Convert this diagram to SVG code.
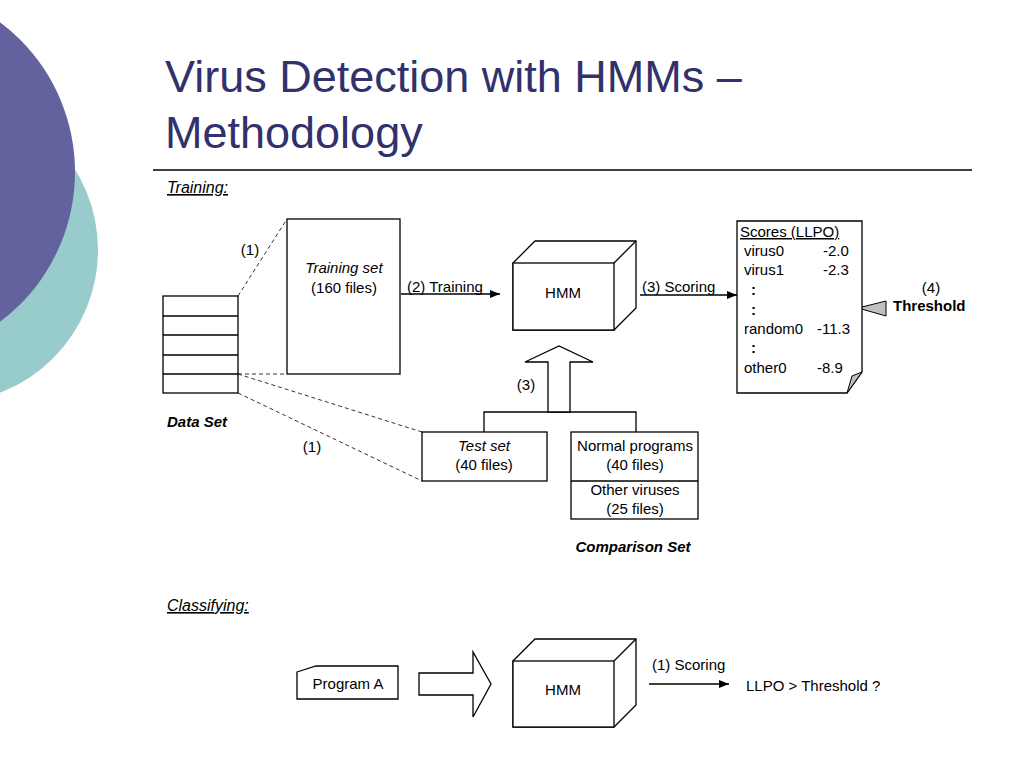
<svg xmlns="http://www.w3.org/2000/svg" width="1024" height="768" viewBox="0 0 1024 768">
<defs>
<style>
.t{font-family:"Liberation Sans",Arial,sans-serif;font-size:15px;fill:#000}
.c{text-anchor:middle}
.i{font-style:italic}
.b{font-weight:bold}
.h{font-family:"Liberation Sans",Arial,sans-serif;font-size:16px;font-style:italic;text-decoration:underline}
.box{fill:#fff;stroke:#000;stroke-width:1.3}
.dash{fill:none;stroke:#000;stroke-width:0.8;stroke-dasharray:4 3}
.ln{fill:none;stroke:#000;stroke-width:1.3}
</style>
<marker id="ah" markerWidth="10" markerHeight="8" refX="10" refY="4" orient="auto" markerUnits="userSpaceOnUse">
<path d="M0,0 L10,4 L0,8 Z" fill="#000"/>
</marker>
</defs>
<rect width="1024" height="768" fill="#fff"/>
<g id="background">
<circle cx="-55" cy="250" r="153" fill="#98cbcb"/>
<circle cx="-112" cy="172" r="187" fill="#64629e"/>
</g>
<g id="title">
<text x="165" y="92" font-family="'Liberation Sans',Arial,sans-serif" font-size="45" fill="#31316b">Virus Detection with HMMs –</text>
<text x="165" y="148" font-family="'Liberation Sans',Arial,sans-serif" font-size="45" fill="#31316b">Methodology</text>
<line x1="153" y1="170" x2="972" y2="170" stroke="#000" stroke-width="1.5"/>
</g>
<text class="h" x="167" y="193">Training:</text>
<text class="h" x="167" y="611">Classifying:</text>

<g id="connectors">
<line class="dash" x1="238" y1="296" x2="287" y2="219"/>
<line class="dash" x1="238" y1="374" x2="287" y2="374"/>
<line class="dash" x1="238" y1="374" x2="422" y2="432"/>
<line class="dash" x1="238" y1="393" x2="422" y2="481"/>
<line class="ln" x1="401" y1="294" x2="500" y2="294" marker-end="url(#ah)"/>
<line class="ln" x1="640" y1="295" x2="737" y2="295" marker-end="url(#ah)"/>
<polyline class="ln" points="484,432 484,412 636,412 636,432"/>
<polygon class="box" points="548,412 548,362 525,362 559,346 593,362 570,362 570,412"/>
<polygon points="858,308 886,301 886,316" fill="#c0c0c0" stroke="#000" stroke-width="1"/>
<polygon class="box" points="419,673 473,673 473,652 491,684 473,717 473,695 419,695"/>
<line class="ln" x1="649" y1="684" x2="729" y2="684" marker-end="url(#ah)"/>
<text class="t" x="250" y="255" text-anchor="middle">(1)</text>
<text class="t" x="312" y="452" text-anchor="middle">(1)</text>
<text class="t" x="407" y="292">(2) Training</text>
<text class="t" x="642" y="292">(3) Scoring</text>
<text class="t" x="526" y="390" text-anchor="middle">(3)</text>
<text class="t" x="652" y="670">(1) Scoring</text>
</g>

<g id="dataset">
<rect class="box" x="163" y="296" width="75" height="97"/>
<line class="ln" x1="163" y1="316" x2="238" y2="316"/>
<line class="ln" x1="163" y1="335" x2="238" y2="335"/>
<line class="ln" x1="163" y1="355" x2="238" y2="355"/>
<line class="ln" x1="163" y1="374" x2="238" y2="374"/>
<text class="t b i" x="167" y="427">Data Set</text>
</g>

<g id="trainingset">
<rect class="box" x="287" y="219" width="113" height="155"/>
<text class="t c i" x="344" y="273">Training set</text>
<text class="t c" x="344" y="293">(160 files)</text>
</g>

<g id="hmm1">
<polygon class="box" points="513,263 535,241 636,241 636,308 614,330 513,330"/>
<rect class="box" x="513" y="263" width="101" height="67"/>
<line class="ln" x1="614" y1="263" x2="636" y2="241"/>
<text class="t c" x="563" y="298">HMM</text>
</g>

<g id="scores">
<polygon class="box" points="737,221 862,221 862,372 847,393 737,393"/>
<polygon points="862,372 847,393 852,376" fill="#c0c0c0" stroke="#000" stroke-width="1"/>
<text class="t" x="740" y="237" text-decoration="underline">Scores (LLPO)</text>
<text class="t" x="744" y="256">virus0</text>
<text class="t" x="823" y="256">-2.0</text>
<text class="t" x="744" y="275">virus1</text>
<text class="t" x="823" y="275">-2.3</text>
<text class="t b" x="751" y="295">:</text>
<text class="t b" x="751" y="315">:</text>
<text class="t" x="744" y="334">random0</text>
<text class="t" x="817" y="334">-11.3</text>
<text class="t b" x="751" y="353">:</text>
<text class="t" x="744" y="373">other0</text>
<text class="t" x="817" y="373">-8.9</text>
</g>

<g id="threshold">
<text class="t c" x="931" y="293">(4)</text>
<text class="t b" x="893" y="311">Threshold</text>
</g>

<g id="testset">
<rect class="box" x="422" y="432" width="125" height="49"/>
<text class="t c i" x="484" y="451">Test set</text>
<text class="t c" x="484" y="470">(40 files)</text>
</g>

<g id="comparisonset">
<rect class="box" x="571" y="432" width="127" height="87"/>
<line class="ln" x1="571" y1="481" x2="698" y2="481"/>
<text class="t c" x="635" y="451">Normal programs</text>
<text class="t c" x="635" y="470">(40 files)</text>
<text class="t c" x="635" y="495">Other viruses</text>
<text class="t c" x="635" y="514">(25 files)</text>
<text class="t c b i" x="633" y="552">Comparison Set</text>
</g>

<g id="programA">
<polygon class="box" points="297,672 316,666 398,666 398,699 297,699"/>
<text class="t c" x="348" y="689">Program A</text>
</g>

<g id="hmm2">
<polygon class="box" points="513,661 535,639 636,639 636,705 614,727 513,727"/>
<rect class="box" x="513" y="661" width="101" height="66"/>
<line class="ln" x1="614" y1="661" x2="636" y2="639"/>
<text class="t c" x="563" y="695">HMM</text>
</g>

<g id="result">
<text class="t" x="746" y="691">LLPO &gt; Threshold ?</text>
</g>
</svg>
